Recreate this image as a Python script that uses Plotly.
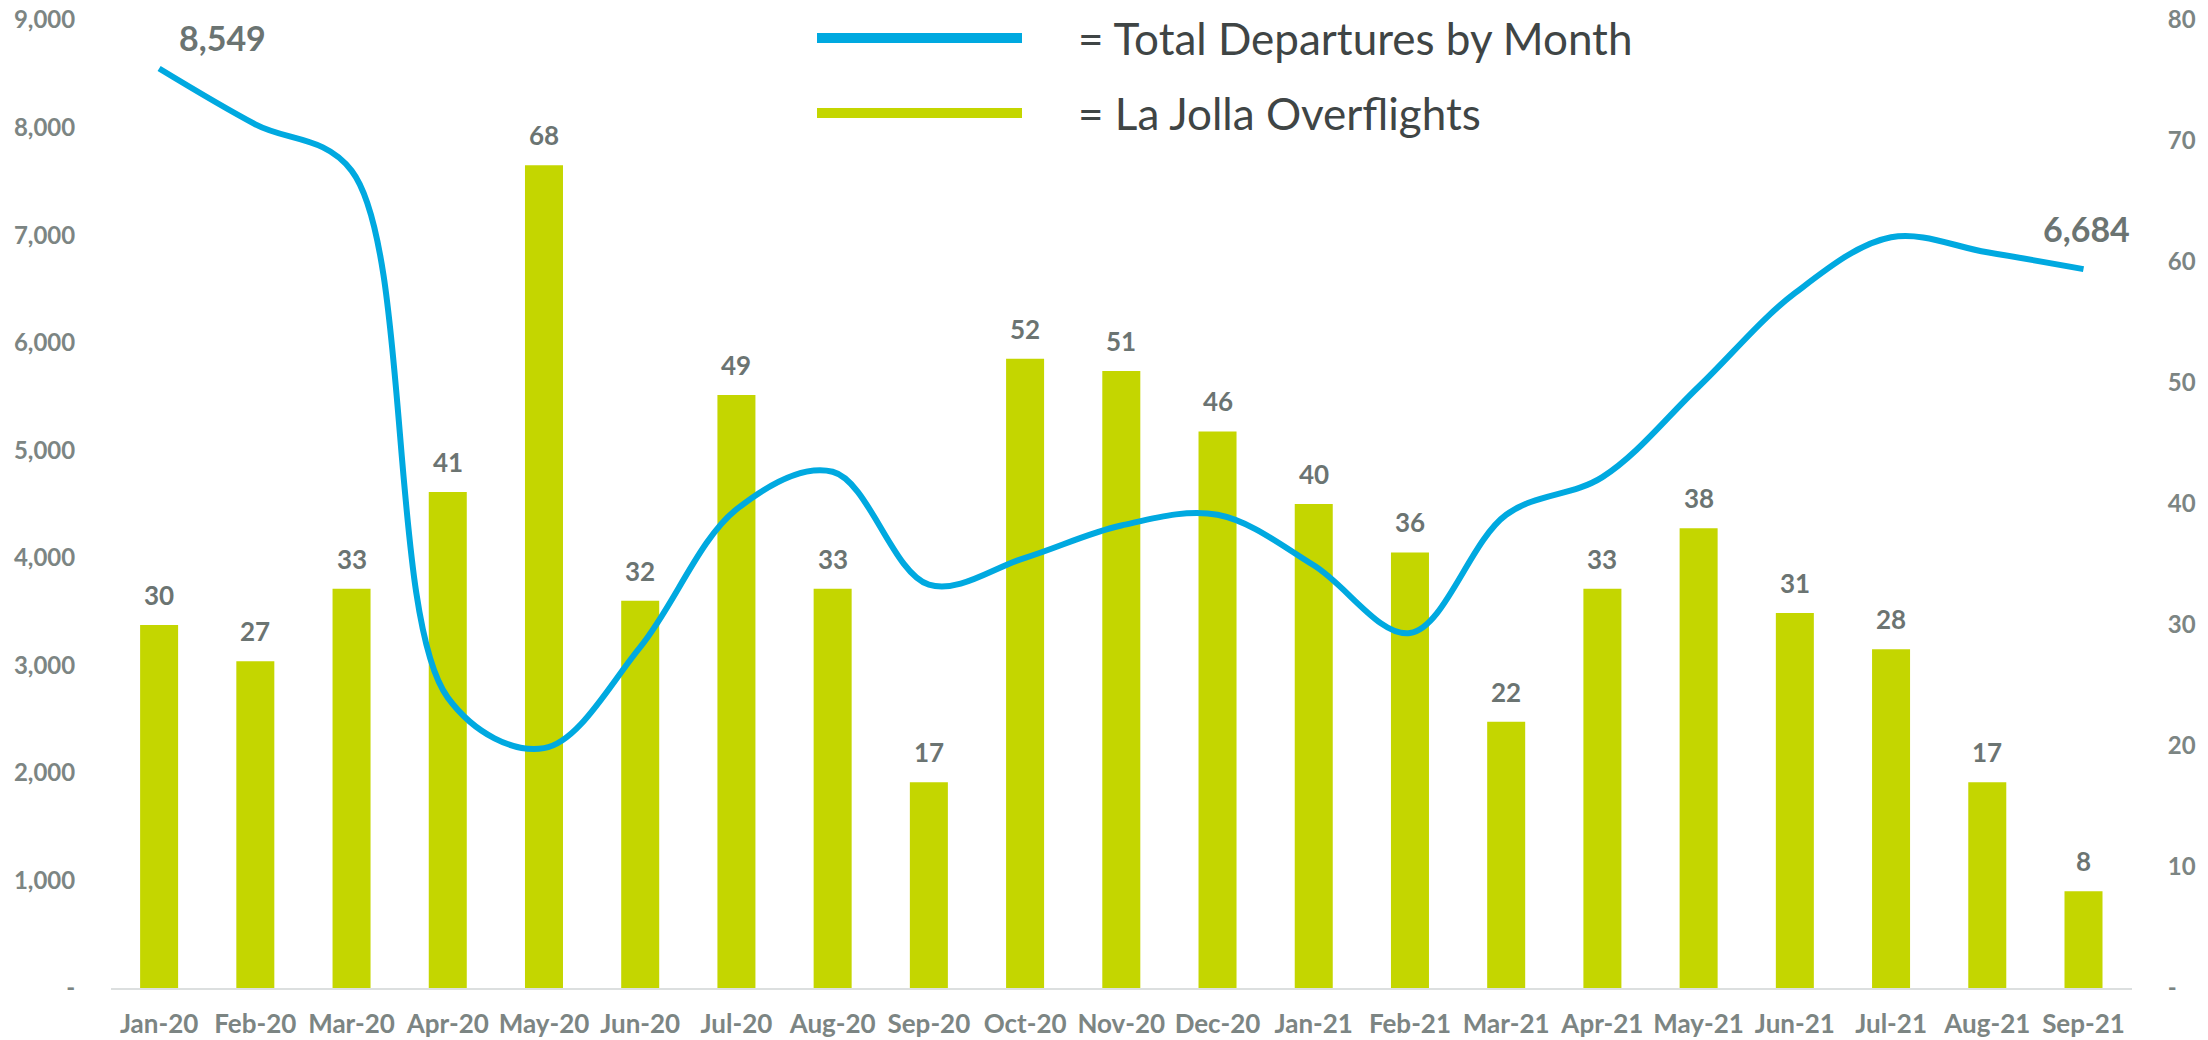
import plotly.graph_objects as go

months = ["Jan-20", "Feb-20", "Mar-20", "Apr-20", "May-20", "Jun-20", "Jul-20", "Aug-20",
          "Sep-20", "Oct-20", "Nov-20", "Dec-20", "Jan-21", "Feb-21", "Mar-21", "Apr-21",
          "May-21", "Jun-21", "Jul-21", "Aug-21", "Sep-21"]
departures = [8549, 8030, 7600, 2700, 2230, 3170, 4450, 4800, 3750, 4000, 4300, 4400,
              3930, 3300, 4400, 4750, 5590, 6460, 6980, 6840, 6684]
overflights = [30, 27, 33, 41, 68, 32, 49, 33, 17, 52, 51, 46, 40, 36, 22, 33, 38, 31, 28, 17, 8]

left_tickvals = [0, 1000, 2000, 3000, 4000, 5000, 6000, 7000, 8000, 9000]
left_ticktext = ["-", "1,000", "2,000", "3,000", "4,000", "5,000", "6,000", "7,000", "8,000", "9,000"]
right_tickvals = [0, 10, 20, 30, 40, 50, 60, 70, 80]
right_ticktext = ["-", "10", "20", "30", "40", "50", "60", "70", "80"]

legend_labels = ["= Total Departures by Month", "= La Jolla Overflights"]

BLUE = "#00A9E0"
GREEN = "#C4D600"
LABEL_GRAY = "#6B7472"
TICK_GRAY = "#7C8583"
TEXT_DARK = "#3F4545"
FONT = "Lato"

fig = go.Figure()

fig.add_trace(go.Bar(
    x=months, y=overflights, marker=dict(color=GREEN, line=dict(width=0)),
    yaxis="y", name=legend_labels[1], showlegend=False,
))

fig.add_trace(go.Scatter(
    x=months, y=departures, mode="lines",
    line=dict(color=BLUE, width=6, shape="spline", smoothing=1.0),
    yaxis="y2", name=legend_labels[0], showlegend=False,
))

annotations = []
for m, v in zip(months, overflights):
    annotations.append(dict(
        x=m, y=v, xref="x", yref="y", text=str(v), showarrow=False,
        yanchor="middle", xanchor="center", yshift=30,
        font=dict(family=FONT, size=26, color=LABEL_GRAY, weight="bold"),
    ))

annotations.append(dict(
    x=months[0], y=departures[0], xref="x", yref="y2", text=f"{departures[0]:,}",
    showarrow=False, xanchor="center", yanchor="middle", xshift=63, yshift=31,
    font=dict(family=FONT, size=34, color=LABEL_GRAY, weight="bold"),
))
annotations.append(dict(
    x=months[-1], y=departures[-1], xref="x", yref="y2", text=f"{departures[-1]:,}",
    showarrow=False, xanchor="center", yanchor="middle", xshift=3, yshift=41,
    font=dict(family=FONT, size=34, color=LABEL_GRAY, weight="bold"),
))

# legend (manual)
W0, W1 = 111, 2132
H0, H1 = 988, 20
def px(xp):
    return (xp - W0) / (W1 - W0)
def py(yp):
    return (H0 - yp) / (H0 - H1)

shapes = [
    dict(type="line", xref="paper", yref="paper", x0=px(817), x1=px(1022), y0=py(38), y1=py(38),
         line=dict(color=BLUE, width=10)),
    dict(type="line", xref="paper", yref="paper", x0=px(817), x1=px(1022), y0=py(113), y1=py(113),
         line=dict(color=GREEN, width=10)),
]
annotations.append(dict(
    x=px(1076), y=py(38), xref="paper", yref="paper", text=legend_labels[0], showarrow=False,
    xanchor="left", yanchor="middle", font=dict(family=FONT, size=44, color=TEXT_DARK),
))
annotations.append(dict(
    x=px(1076), y=py(113), xref="paper", yref="paper", text=legend_labels[1], showarrow=False,
    xanchor="left", yanchor="middle", font=dict(family=FONT, size=44, color=TEXT_DARK),
))

fig.update_layout(
    width=2208, height=1040,
    margin=dict(l=111, r=76, t=20, b=52, autoexpand=False),
    paper_bgcolor="white", plot_bgcolor="white",
    bargap=0.605,
    font=dict(family=FONT),
    xaxis=dict(
        type="category", showgrid=False, showline=True, linecolor="#DCDFDF", linewidth=2,
        ticks="outside", ticklen=12, tickcolor="rgba(0,0,0,0)",
        tickfont=dict(family=FONT, size=26, color=TICK_GRAY, weight="bold"),
        zeroline=False, automargin=False,
    ),
    yaxis=dict(
        side="right", range=[0, 80], tickvals=right_tickvals, ticktext=right_ticktext,
        showgrid=False, zeroline=False, showline=False, automargin=False,
        ticks="outside", ticklen=30, tickcolor="rgba(0,0,0,0)",
        tickfont=dict(family=FONT, size=24, color=TICK_GRAY, weight="bold"),
    ),
    yaxis2=dict(
        side="left", overlaying="y", range=[0, 9000], tickvals=left_tickvals, ticktext=left_ticktext,
        showgrid=False, zeroline=False, showline=False, automargin=False,
        ticks="outside", ticklen=30, tickcolor="rgba(0,0,0,0)",
        tickfont=dict(family=FONT, size=24, color=TICK_GRAY, weight="bold"),
    ),
    annotations=annotations,
    shapes=shapes,
    showlegend=False,
)

fig.write_html("out.html", config={"displayModeBar": False},
               post_script="document.body.style.margin='0';document.body.style.overflow='hidden';")
